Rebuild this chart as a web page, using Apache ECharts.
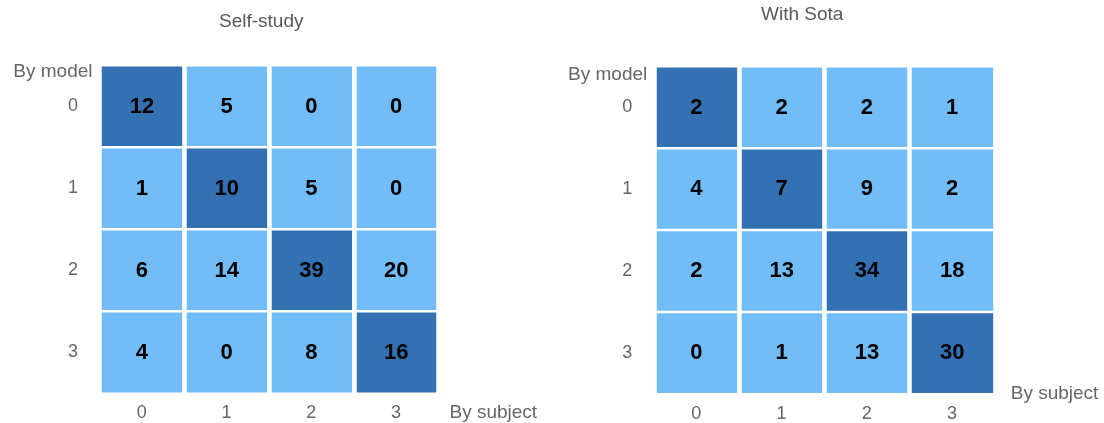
<!DOCTYPE html>
<html>
<head>
<meta charset="utf-8">
<script src="https://cdn.jsdelivr.net/npm/echarts@6/dist/echarts.min.js"></script>
<style>
  html, body { margin: 0; padding: 0; background: #fff; }
  #chart { width: 1104px; height: 423px; }
</style>
</head>
<body>
<div id="chart"></div>
<script>
// Confusion matrices: rows = label given by the model, columns = label given by the subject
const subjects = ['0', '1', '2', '3'];
const models = ['0', '1', '2', '3'];

const selfStudy = [
  [12, 5, 0, 0],
  [1, 10, 5, 0],
  [6, 14, 39, 20],
  [4, 0, 8, 16]
];

const withSota = [
  [2, 2, 2, 1],
  [4, 7, 9, 2],
  [2, 13, 34, 18],
  [0, 1, 13, 30]
];

const panelTitles = ['Self-study', 'With Sota'];
const xName = 'By subject';
const yName = 'By model';

const DIAG = '#3371b3';
const OFF = '#72bdf7';
const FONT = '"Liberation Sans", Arial, Helvetica, sans-serif';

// Per-panel placement
const panels = [
  { matrix: selfStudy, grid: { left: 99.5, top: 65.5, width: 339, height: 328 },
    title: { left: 219, top: 12 }, yNameGap: -6.5, yNamePad: [0, 7, 0, 0],
    xNameGap: 11, xNameStyle: { verticalAlign: 'top', padding: [10, 0, 0, 0] } },
  { matrix: withSota, grid: { left: 653.75, top: 66.5, width: 341, height: 328.8 },
    title: { left: 761, top: 5.5 }, yNameGap: -8, yNamePad: [0, 6.5, 0, 0],
    xNameGap: 16, xNameStyle: { verticalAlign: 'middle' } }
];

function cells(matrix) {
  const out = [];
  matrix.forEach((row, r) => {
    row.forEach((v, c) => {
      out.push({ value: [c, r, v], itemStyle: { color: r === c ? DIAG : OFF } });
    });
  });
  return out;
}

const option = {
  backgroundColor: '#fff',
  animation: false,
  textStyle: { fontFamily: FONT },
  title: panels.map((p, i) => ({
    text: panelTitles[i],
    left: p.title.left,
    top: p.title.top,
    padding: 0,
    textStyle: { fontFamily: FONT, fontSize: 19, fontWeight: 'normal', color: '#595959' }
  })),
  grid: panels.map(p => Object.assign({ containLabel: false }, p.grid)),
  xAxis: panels.map((p, i) => ({
    type: 'category',
    gridIndex: i,
    data: subjects,
    z: 10,
    axisLine: { show: false },
    axisTick: { show: false },
    axisLabel: { color: '#666', fontSize: 18, margin: 11, fontFamily: FONT },
    // white separators between columns, drawn over the cells
    splitLine: { show: true, lineStyle: { color: '#fff', width: 4.5 } },
    name: xName,
    nameLocation: 'end',
    nameGap: p.xNameGap,
    nameTextStyle: Object.assign({ color: '#666', fontSize: 19, fontFamily: FONT }, p.xNameStyle)
  })),
  yAxis: panels.map((p, i) => ({
    type: 'category',
    gridIndex: i,
    data: models,
    inverse: true,
    axisLine: { show: false },
    axisTick: { show: false },
    axisLabel: { color: '#666', fontSize: 18, margin: 21.5, fontFamily: FONT },
    splitLine: { show: false },
    name: yName,
    nameLocation: 'start',
    nameGap: p.yNameGap,
    nameTextStyle: {
      color: '#666', fontSize: 19, fontFamily: FONT,
      align: 'right', verticalAlign: 'middle', padding: p.yNamePad
    }
  })),
  series: panels.map((p, i) => ({
    type: 'heatmap',
    xAxisIndex: i,
    yAxisIndex: i,
    data: cells(p.matrix),
    itemStyle: { borderColor: '#fff', borderWidth: 2.5 },
    label: {
      show: true,
      color: '#000',
      fontSize: 22,
      fontWeight: 'bold',
      fontFamily: FONT,
      formatter: d => d.value[2]
    },
    emphasis: { disabled: true }
  }))
};

const chart = echarts.init(document.getElementById('chart'), null, { renderer: 'canvas' });
chart.setOption(option);
</script>
</body>
</html>
